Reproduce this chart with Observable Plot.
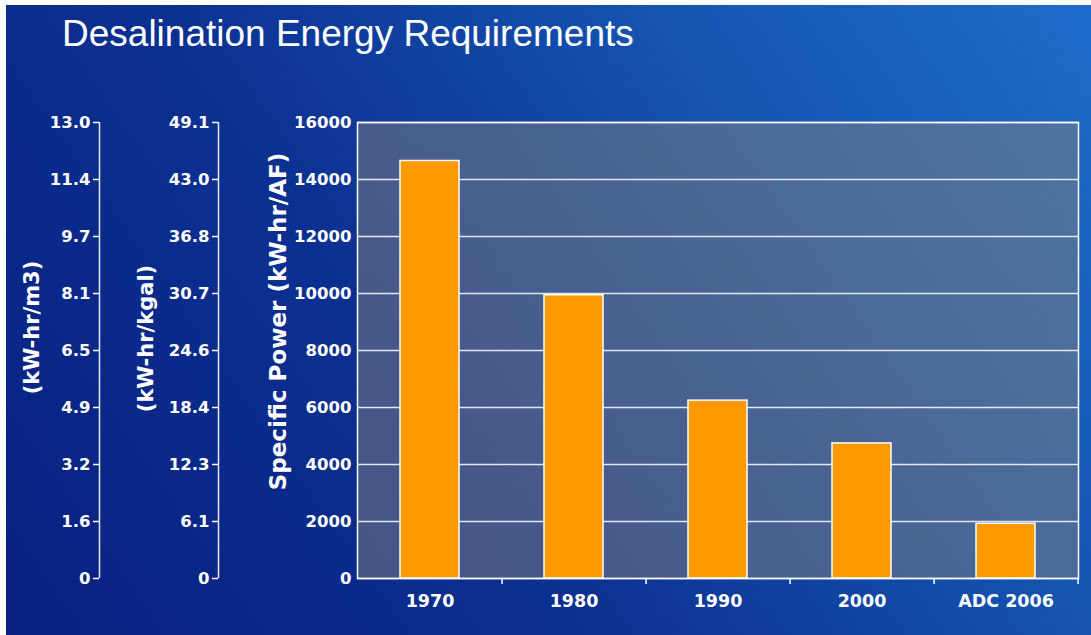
<!DOCTYPE html>
<html><head><meta charset="utf-8">
<script src="https://cdn.jsdelivr.net/npm/d3@7"></script>
<script src="https://cdn.jsdelivr.net/npm/@observablehq/plot@0.6"></script>
<style>
body{margin:0;background:#fff;}
#root{position:relative;width:1091px;height:635px;overflow:hidden;background:#fff;}
#bg{position:absolute;left:6px;top:5px;right:0;bottom:0;background:linear-gradient(55deg,#08207f 0%,#0c3193 40%,#1555b2 72%,#1d6cc9 100%);}
#title{position:absolute;left:62px;top:15px;font-family:"Liberation Sans",Arial,sans-serif;font-size:37px;line-height:37px;color:#fff;white-space:nowrap;}
.layer{position:absolute;left:0;top:0;}
</style></head>
<body>
<div id="root"><div id="bg"></div><div id="title">Desalination Energy Requirements</div></div>
<script>
const categories = ["1970", "1980", "1990", "2000", "ADC 2006"];
const values = [14650, 9940, 6240, 4740, 1920];
const yTicks = [0, 2000, 4000, 6000, 8000, 10000, 12000, 14000, 16000];
const m3Labels = ["0", "1.6", "3.2", "4.9", "6.5", "8.1", "9.7", "11.4", "13.0"];
const kgalLabels = ["0", "6.1", "12.3", "18.4", "24.6", "30.7", "36.8", "43.0", "49.1"];
const yLabel = "Specific Power (kW-hr/AF)";
const m3Title = "(kW-hr/m3)";
const kgalTitle = "(kW-hr/kgal)";

const data = categories.map((c, i) => ({cat: c, value: values[i]}));
const W = 1091, H = 635, mT = 122, mB = 57, mL = 357, mR = 13;
const step = (W - mL - mR) / categories.length;
const baseStyle = {background: "transparent", color: "white", fontFamily: "'DejaVu Sans', Verdana, sans-serif", fontWeight: "bold", overflow: "visible"};

const main = Plot.plot({
  width: W, height: H, marginTop: mT, marginBottom: mB, marginLeft: mL, marginRight: mR,
  style: baseStyle,
  x: {domain: categories, paddingInner: 0.59, paddingOuter: 0.295},
  y: {domain: [0, 16000]},
  marks: [
    Plot.frame({fill: "#808080", fillOpacity: 0.5, stroke: null}),
    Plot.gridY(yTicks, {stroke: "#e4e7ee", strokeOpacity: 1, strokeWidth: 1.5}),
    Plot.barY(data, {x: "cat", y: "value", fill: "#ff9900", stroke: "white", strokeWidth: 1.5}),
    Plot.frame({stroke: "white", strokeWidth: 1.5}),
    Plot.axisY(yTicks, {tickSize: 0, tickPadding: 6, fontSize: 16.5, label: null, tickFormat: d => String(d)}),
    Plot.axisX({tickSize: 0, tickPadding: 16, fontSize: 17.5, label: null}),
    Plot.axisX({tickSize: 6, strokeWidth: 1.5, tickFormat: () => "", dx: step / 2, label: null}),
    Plot.text([yLabel], {frameAnchor: "left", textAnchor: "middle", rotate: -90, dx: -79, dy: -29, fontSize: 23, fill: "white"})
  ]
});

function sideAxis(labels, lineX, title, tdx, tdy) {
  return Plot.plot({
    width: W, height: H, marginTop: mT, marginBottom: mB, marginLeft: lineX, marginRight: W - lineX - 1,
    style: baseStyle,
    x: {domain: [0, 1], axis: null},
    y: {domain: [0, 16000]},
    marks: [
      Plot.ruleX([0], {stroke: "#e8eaf0", strokeWidth: 1.5}),
      Plot.axisY(yTicks, {tickSize: 6, tickPadding: 3, strokeWidth: 1.5, fontSize: 16.5, label: null,
        tickFormat: d => labels[yTicks.indexOf(d)]}),
      Plot.text([title], {frameAnchor: "left", textAnchor: "middle", rotate: -90, dx: tdx, dy: tdy, fontSize: 21, fill: "white"})
    ]
  });
}

const a1 = sideAxis(m3Labels, 99, m3Title, -67, -23);
const a2 = sideAxis(kgalLabels, 218, kgalTitle, -72, -12);
const root = document.getElementById("root");
for (const s of [a1, a2, main]) { s.classList.add("layer"); root.appendChild(s); }
</script>
</body></html>
